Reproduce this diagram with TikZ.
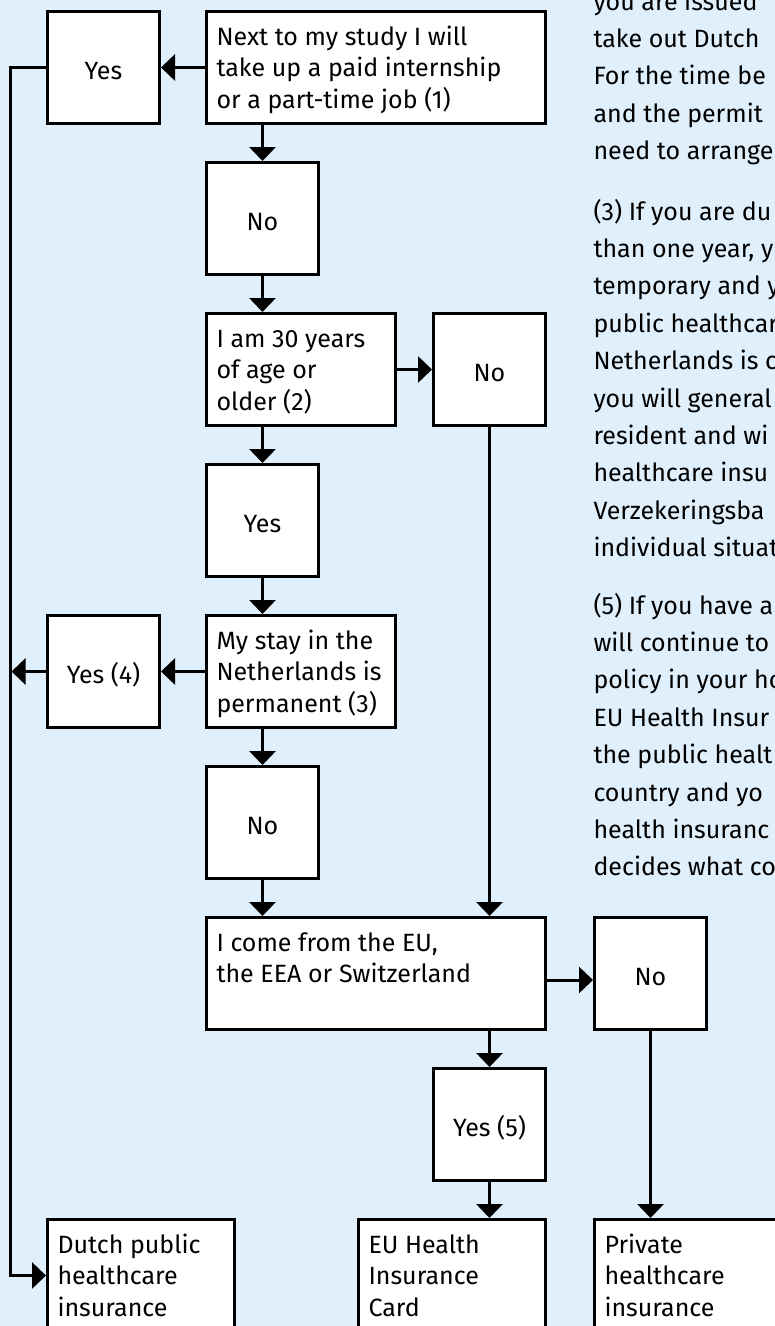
\documentclass[tikz,border=0pt]{standalone}
\usepackage{fontspec}
\setmainfont{Fira Sans}
\usetikzlibrary{arrows.meta}
\definecolor{bg}{RGB}{223,239,251}
\lineskiplimit=-20pt
\newcommand\boxfont{\fontsize{25}{31.5}\selectfont}
\newcommand\bodyfont{\fontsize{25}{37.4}\selectfont}
\newcommand\bt[3]{\parbox[c][#2][t]{#1}{\boxfont\raggedright\lineskiplimit=-20pt\rule{0pt}{33.5pt}#3}}
\newcommand\para[1]{\parbox[t]{300pt}{\bodyfont\raggedright\lineskiplimit=-20pt #1}}
\tikzset{
  box/.style={draw=black, line width=3pt, fill=white, rectangle},
  sq/.style={box, inner sep=0pt, minimum width=112pt, minimum height=112pt,
    text height=23pt, text depth=0pt, align=center, font=\boxfont},
  wbox/.style={box, inner xsep=10pt, inner ysep=0pt},
  con/.style={line width=3pt, line join=miter, -{Triangle[width=26pt,length=14pt]}},
  body/.style={anchor=base west, inner sep=0pt},
}
\begin{document}
\begin{tikzpicture}[x=1pt,y=-1pt]
\useasboundingbox (0,0) rectangle (775,1326);
\clip (0,0) rectangle (775,1326);
\fill[bg] (0,0) rectangle (775,1326);
\coordinate (lft) at (10,0);

% boxes
\node[sq] (yes1) at (103.5,67.5) {Yes};
\node[wbox] (q1) at (376,67.5) {\bt{319pt}{112pt}{Next to my study I will\\take up a paid internship\\or a part-time job (1)}};
\node[sq] (no1) at (262.5,218.5) {No};
\node[wbox] (q2) at (301,369.5) {\bt{169pt}{112pt}{I am 30 years\\of age or\\older (2)}};
\node[sq] (no2) at (489.5,369.5) {No};
\node[sq] (yes2) at (262.5,520.5) {Yes};
\node[wbox] (q3) at (301,671.5) {\bt{169pt}{112pt}{My stay in the\\Netherlands is\\permanent (3)}};
\node[sq] (yes4) at (103.5,671.5) {Yes (4)};
\node[sq] (no3) at (262.5,822.5) {No};
\node[wbox] (q4) at (376,973.5) {\bt{319pt}{112pt}{I come from the EU,\\the EEA or Switzerland}};
\node[sq] (no4) at (650.5,973.5) {No};
\node[sq] (yes5) at (489.5,1124.5) {Yes (5)};
\node[wbox] (r1) at (141,1275.5) {\bt{167pt}{112pt}{Dutch public\\healthcare\\insurance}};
\node[wbox] (r2) at (452,1275.5) {\bt{167pt}{112pt}{EU Health\\Insurance\\Card}};
\node[wbox] (r3) at (688,1275.5) {\bt{167pt}{112pt}{Private\\healthcare\\insurance}};

% right-hand text
\node[body] (p1) at (593.3,10) {\para{you are issued\\take out Dutch\\For the time be\\and the permit\\need to arrange}};
\node[body] (p2) at (593.3,220) {\para{(3) If you are du\\than one year, y\\temporary and y\\public healthcar\\Netherlands is c\\you will general\\resident and wi\\healthcare insu\\Verzekeringsba\\individual situat}};
\node[body] (p3) at (593.3,614) {\para{(5) If you have a\\will continue to\\policy in your ho\\EU Health Insur\\the public healt\\country and yo\\health insuranc\\decides what co}};

% connectors
\draw[con] (q1) -- (yes1);
\draw[con] (yes1.west) -- (yes1.west -| lft) -- (r1.west -| lft) -- (r1.west);
\draw[con] (q1.south -| no1.north) -- (no1.north);
\draw[con] (no1.south) -- (no1.south |- q2.north);
\draw[con] (q2) -- (no2);
\draw[con] (q2.south -| yes2.north) -- (yes2.north);
\draw[con] (yes2.south) -- (yes2.south |- q3.north);
\draw[con] (q3) -- (yes4);
\draw[con] (yes4.west) -- ([xshift=1.5pt]yes4.west -| lft);
\draw[con] (q3.south -| no3.north) -- (no3.north);
\draw[con] (no3.south) -- (no3.south |- q4.north);
\draw[con] (no2.south) -- (no2.south |- q4.north);
\draw[con] ([yshift=-6.5pt]q4.east) -- ([yshift=-6.5pt]no4.west);
\draw[con] (q4.south -| yes5.north) -- (yes5.north);
\draw[con] (yes5.south) -- (yes5.south |- r2.north);
\draw[con] (no4.south) -- (no4.south |- r3.north);
\end{tikzpicture}
\end{document}
